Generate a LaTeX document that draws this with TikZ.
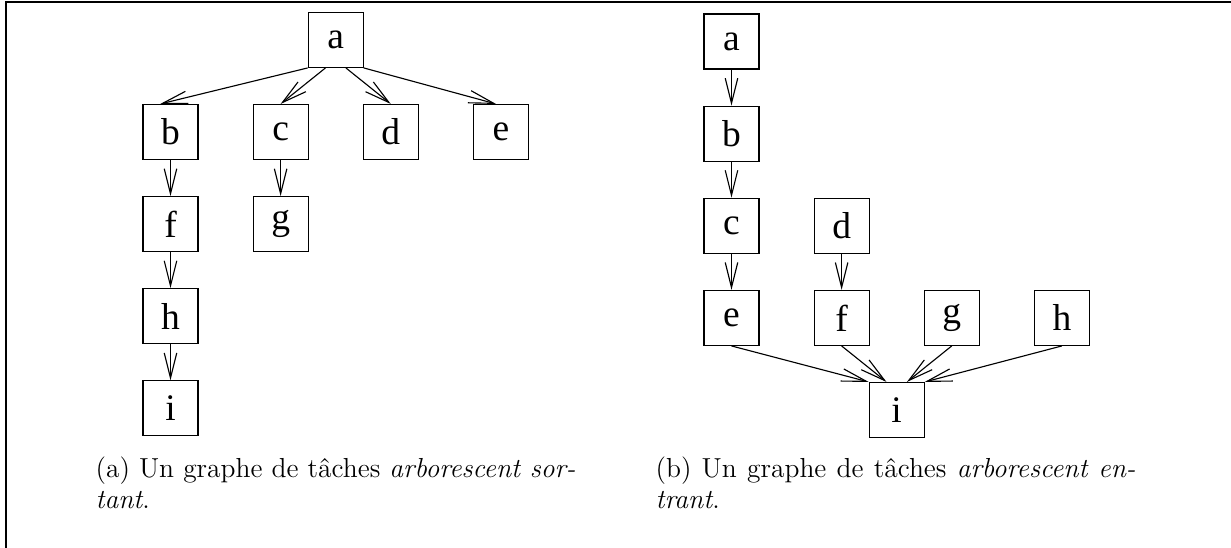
\documentclass[tikz,border=0pt]{standalone}
\usepackage{fontspec}
\usepackage{tikz}
\usetikzlibrary{arrows.meta,positioning,calc}
\newfontfamily\boxfont{Liberation Serif}
\tikzset{tache/.style={draw, rectangle, minimum size=22pt, inner sep=0pt, font=\boxfont\fontsize{15}{17}\selectfont}}
\tikzstyle{legende}=[inner sep=0pt, text width=192pt, align=justify, anchor=north west, font=\fontsize{11}{12.5}\selectfont]

\begin{document}
\begin{tikzpicture}[>={Straight Barb[length=10pt,width=5pt]}, line width=0.45pt, node distance=14.4pt and 21.6pt]
\useasboundingbox (0,0) rectangle (492.4pt,-219.2pt);
\draw[line width=0.5pt] (492.4pt,-0.8pt) -- (2.4pt,-0.8pt) -- (2.4pt,-219.2pt);

% arborescent sortant
\node[tache] (sb) at (68.2pt,-52.8pt) {b};
\node[tache, right=of sb] (sc) {c};
\node[tache, right=of sc] (sd) {d};
\node[tache, right=of sd] (se) {e};
\coordinate (scd) at ($(sc.north)!.5!(sd.north)$);
\node[tache, above=of scd] (sa) {a};
\node[tache, below=of sb] (sf) {f};
\node[tache, below=of sc] (sg) {g};
\node[tache, below=of sf] (sh) {h};
\node[tache, below=of sh] (si) {i};
\path[->] (sa.south west) edge (sb.110)
          (sa.250) edge (sc.north)
          (sa.290) edge (sd.north)
          (sa.south east) edge (se.100)
          (sb) edge (sf)
          (sc) edge (sg)
          (sf) edge (sh)
          (sh) edge (si);
\node[legende] (lsort) at (38pt,-182.6pt) {(a) Un graphe de tâches \textit{arborescent sor-\linebreak tant}.};

% arborescent entrant
\node[tache] (ea) at (292.6pt,-16.6pt) {a};
\node[tache, below=of ea] (eb) {b};
\node[tache, below=of eb] (ec) {c};
\node[tache, right=of ec] (ed) {d};
\node[tache, below=of ec] (ee) {e};
\node[tache, below=of ed] (ef) {f};
\node[tache, right=of ef] (eg) {g};
\node[tache, right=of eg] (eh) {h};
\coordinate (efg) at ($(ef.south)!.5!(eg.south)$);
\node[tache, below=of efg] (ei) {i};
\path[->] (ea) edge (eb)
          (eb) edge (ec)
          (ec) edge (ee)
          (ed) edge (ef)
          (ee.south) edge (ei.north west)
          (ef.south) edge (ei.110)
          (eg.south) edge (ei.70)
          (eh.south) edge (ei.north east);
\node[legende] (lentr) at (262pt,-182.6pt) {(b) Un graphe de tâches \textit{arborescent en-\linebreak trant}.};
\end{tikzpicture}
\end{document}
